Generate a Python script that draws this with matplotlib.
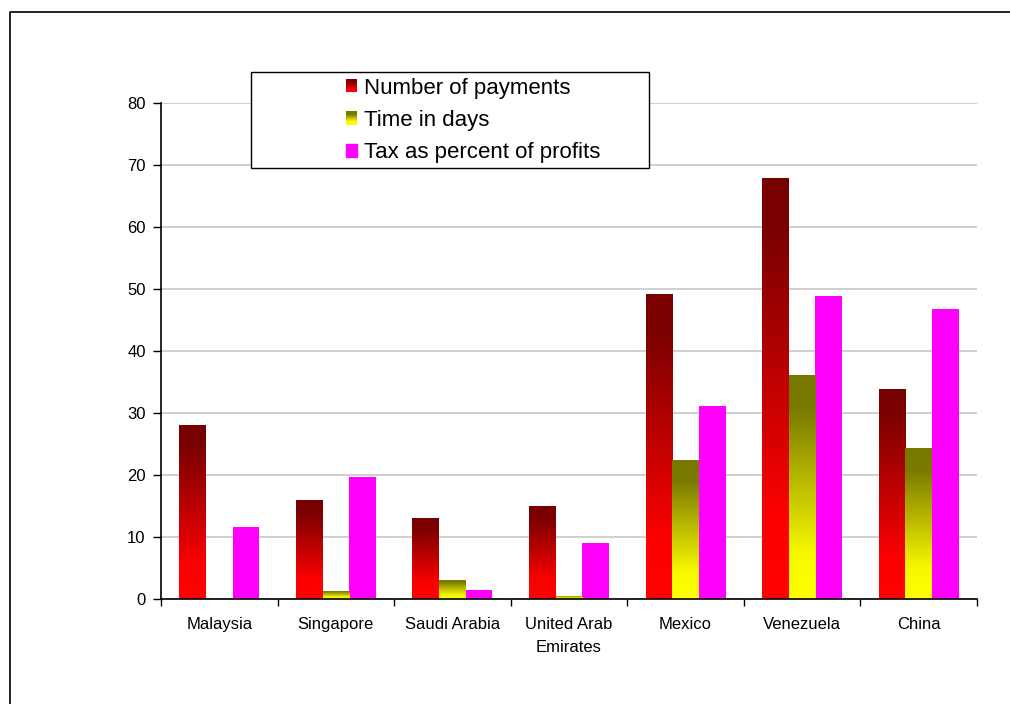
import numpy as np
import matplotlib
matplotlib.use("Agg")
import matplotlib.pyplot as plt
from matplotlib.colors import LinearSegmentedColormap
from matplotlib.patches import Rectangle
from matplotlib.lines import Line2D
from matplotlib.legend_handler import HandlerBase

plt.rcParams["font.family"] = ["Liberation Sans", "DejaVu Sans"]

countries = ["Malaysia", "Singapore", "Saudi Arabia", "United Arab\nEmirates",
             "Mexico", "Venezuela", "China"]
payments = [28, 16, 13, 15, 49.2, 67.9, 33.9]
time_days = [0, 1.3, 3.1, 0.5, 22.4, 36.1, 24.4]
tax_pct = [11.6, 19.7, 1.5, 9.0, 31.1, 48.9, 46.8]
series_names = ["Number of payments", "Time in days", "Tax as percent of profits"]
y_ticks = [0, 10, 20, 30, 40, 50, 60, 70, 80]

RED_CMAP = LinearSegmentedColormap.from_list(
    "red", [(0, "#ff0000"), (0.2, "#fb0000"), (0.88, "#7a0000"), (1, "#780000")])
YEL_CMAP = LinearSegmentedColormap.from_list(
    "yel", [(0, "#ffff00"), (0.2, "#f8f800"), (0.85, "#7a7a00"), (1, "#787800")])
MAGENTA = "#ff00ff"


class GradHandler(HandlerBase):
    """Legend key drawn as a small vertical gradient square."""
    def __init__(self, cmap):
        super().__init__()
        self.cmap = cmap

    def create_artists(self, legend, orig_handle, xdescent, ydescent,
                       width, height, fontsize, trans):
        n = 12
        arts = []
        for k in range(n):
            c = self.cmap(k / (n - 1))
            r = Rectangle((-xdescent, -ydescent + height * k / n), width, height / n + 0.3,
                          facecolor=c, edgecolor="none", transform=trans)
            arts.append(r)
        return arts


fig = plt.figure(figsize=(10.1, 7.04), dpi=100)
W, H = 1010, 704
ax = fig.add_axes([161 / W, 1 - 599 / H, (977 - 161) / W, (599 - 103) / H])

x = np.arange(len(countries))
bw = 0.229
grad = np.linspace(0, 1, 256).reshape(-1, 1)

bars_p = ax.bar(x - bw, payments, bw, facecolor="none", edgecolor="none", zorder=2)
bars_t = ax.bar(x, time_days, bw, facecolor="none", edgecolor="none", zorder=2)
ax.bar(x + bw, tax_pct, bw, color=MAGENTA, edgecolor="none", zorder=2)

for bars, cmap in ((bars_p, RED_CMAP), (bars_t, YEL_CMAP)):
    for rect in bars:
        h = rect.get_height()
        if h <= 0:
            continue
        x0 = rect.get_x()
        im = ax.imshow(grad, extent=[x0, x0 + rect.get_width(), 0, h], origin="lower",
                       aspect="auto", cmap=cmap, vmin=0, vmax=1, zorder=2,
                       interpolation="bilinear")
        im.set_clip_path(rect)

ax.set_xlim(-0.5, len(countries) - 0.5)
ax.set_ylim(0, 80)
ax.set_yticks(y_ticks)
ax.set_xticks(x)
ax.set_xticklabels(countries)
ax.set_xticks(np.arange(len(countries) + 1) - 0.5, minor=True)
ax.tick_params(axis="x", which="major", length=0, pad=13, labelsize=12)
ax.tick_params(axis="x", which="minor", length=5, width=1, direction="out")
ax.tick_params(axis="y", length=6, width=1, direction="out", pad=5, labelsize=12)
for lbl in ax.get_xticklabels():
    lbl.set_linespacing(1.65)

ax.yaxis.grid(True, color="#c8c8c8", lw=1.2, zorder=0)
ax.set_axisbelow(True)
for side in ("top", "right"):
    ax.spines[side].set_visible(False)
for side in ("left", "bottom"):
    ax.spines[side].set_linewidth(1.2)

# legend box (wider than its entries, as in the original)
fig.patches.append(Rectangle((251 / W, 1 - 168 / H), (649 - 251) / W, (168 - 72) / H,
                             transform=fig.transFigure, facecolor="white",
                             edgecolor="black", lw=1.0, zorder=5))
handles = [Rectangle((0, 0), 1, 1, color="red"), Rectangle((0, 0), 1, 1, color="yellow"),
           Rectangle((0, 0), 1, 1, color=MAGENTA)]
leg = fig.legend(handles, series_names, loc="upper left",
                 bbox_to_anchor=(346 / W, 1 - 78 / H), frameon=False, fontsize=16,
                 handlelength=0.5, handleheight=0.5, handletextpad=0.3,
                 labelspacing=0.5, borderpad=0, borderaxespad=0,
                 handler_map={handles[0]: GradHandler(RED_CMAP),
                              handles[1]: GradHandler(YEL_CMAP)})
leg.set_zorder(6)

# outer frame: left and top edges only
fig.add_artist(Line2D([9.5 / W, 9.5 / W, 1.0], [0.0, 1 - 11.5 / H, 1 - 11.5 / H],
                      transform=fig.transFigure, color="#222222", lw=1.4))

fig.savefig("out.png", dpi=100)
